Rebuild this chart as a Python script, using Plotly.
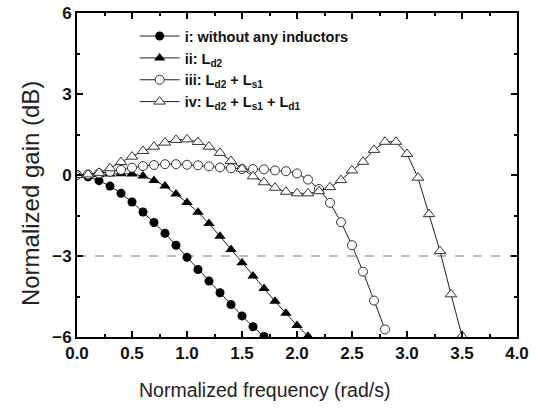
import plotly.graph_objects as go

freq_step = 0.1

gain_i = [0, -0.07, -0.21, -0.41, -0.68, -1.0, -1.37, -1.76, -2.16, -2.6, -3.05,
          -3.5, -3.93, -4.36, -4.8, -5.22, -5.62, -5.98]
gain_ii = [0, 0, 0.02, 0.04, 0.05, 0.04, -0.04, -0.2, -0.41, -0.7, -1.02, -1.38,
           -1.8, -2.27, -2.76, -3.25, -3.74, -4.2, -4.68, -5.12, -5.57, -5.97]
gain_iii = [0, 0.02, 0.06, 0.12, 0.19, 0.27, 0.33, 0.37, 0.4, 0.4, 0.38, 0.36,
            0.32, 0.28, 0.25, 0.22, 0.22, 0.21, 0.17, 0.14, 0.06, -0.17, -0.52,
            -1.03, -1.75, -2.6, -3.58, -4.65, -5.72]
gain_iv = [0, 0.02, 0.08, 0.25, 0.48, 0.68, 0.89, 1.05, 1.2, 1.3, 1.32, 1.22,
           1.05, 0.82, 0.52, 0.23, -0.05, -0.27, -0.47, -0.62, -0.68, -0.68,
           -0.6, -0.45, -0.19, 0.17, 0.49, 0.93, 1.23, 1.23, 0.78, -0.1, -1.45,
           -2.82, -4.42, -5.96]

names = ["i: without any inductors",
         "ii: L<sub>d2</sub>",
         "iii: L<sub>d2</sub> + L<sub>s1</sub>",
         "iv: L<sub>d2</sub> + L<sub>s1</sub> + L<sub>d1</sub>"]
symbols = ["circle", "triangle-up", "circle-open", "triangle-up-open"]
series = [gain_i, gain_ii, gain_iii, gain_iv]

x_ticks = [0.0, 0.5, 1.0, 1.5, 2.0, 2.5, 3.0, 3.5, 4.0]
y_ticks = [-6, -3, 0, 3, 6]
ref_level = -3
x_title = "Normalized frequency (rad/s)"
y_title = "Normalized gain (dB)"

FONT = "Liberation Sans, Arial, sans-serif"

fig = go.Figure()
for name, sym, g in zip(names, symbols, series):
    xs = [round(i * freq_step, 2) for i in range(len(g))]
    base = sym.replace("-open", "")
    size = 9 if base == "circle" else 10
    if sym.endswith("open"):
        marker = dict(symbol=base, size=size, color="white", line=dict(color="#333", width=1))
    else:
        marker = dict(symbol=base, size=size, color="black", line=dict(color="black", width=0))
    fig.add_trace(go.Scatter(x=xs, y=g, mode="lines+markers", name=name,
                             line=dict(color="#222", width=1), marker=marker))

fig.add_hline(y=ref_level, line=dict(color="#777", width=1, dash="dash"), layer="below")

axis_common = dict(showline=True, linewidth=2, linecolor="black", mirror="allticks",
                   ticks="inside", ticklen=6, tickwidth=2, tickcolor="black",
                   showgrid=False, zeroline=False,
                   tickfont=dict(family=FONT, size=17, color="#111", weight="bold"))

fig.update_xaxes(range=[0, 4], tickvals=x_ticks, ticktext=[f"{v:.1f}" for v in x_ticks],
                 minor=dict(ticks="inside", ticklen=3, tickwidth=2, tickcolor="black", dtick=0.25),
                 **axis_common)
fig.update_yaxes(range=[-6, 6], tickvals=y_ticks,
                 minor=dict(ticks="inside", ticklen=3, tickwidth=2, tickcolor="black", dtick=1.5),
                 **axis_common)

fig.add_annotation(text=x_title, xref="paper", yref="paper", x=0.425, y=-0.164,
                   xanchor="center", yanchor="middle", showarrow=False,
                   font=dict(family=FONT, size=19.5, color="#222"))
fig.add_annotation(text=y_title, xref="paper", yref="paper", x=-0.107, y=0.444,
                   xanchor="center", yanchor="middle", showarrow=False, textangle=-90,
                   font=dict(family=FONT, size=24, color="#222"))

fig.update_layout(width=538, height=409, margin=dict(l=77, r=21, t=13, b=72, autoexpand=False),
                  plot_bgcolor="white", paper_bgcolor="white",
                  legend=dict(x=0.131, y=0.978, xanchor="left", yanchor="top",
                              bgcolor="rgba(0,0,0,0)", itemwidth=40, tracegroupgap=0,
                              font=dict(family=FONT, size=14.5, color="#111", weight="bold")),
                  showlegend=True)

fig.write_html("out.html", config={"displayModeBar": False},
               post_script="document.body.style.margin='0';document.body.style.overflow='hidden';")
